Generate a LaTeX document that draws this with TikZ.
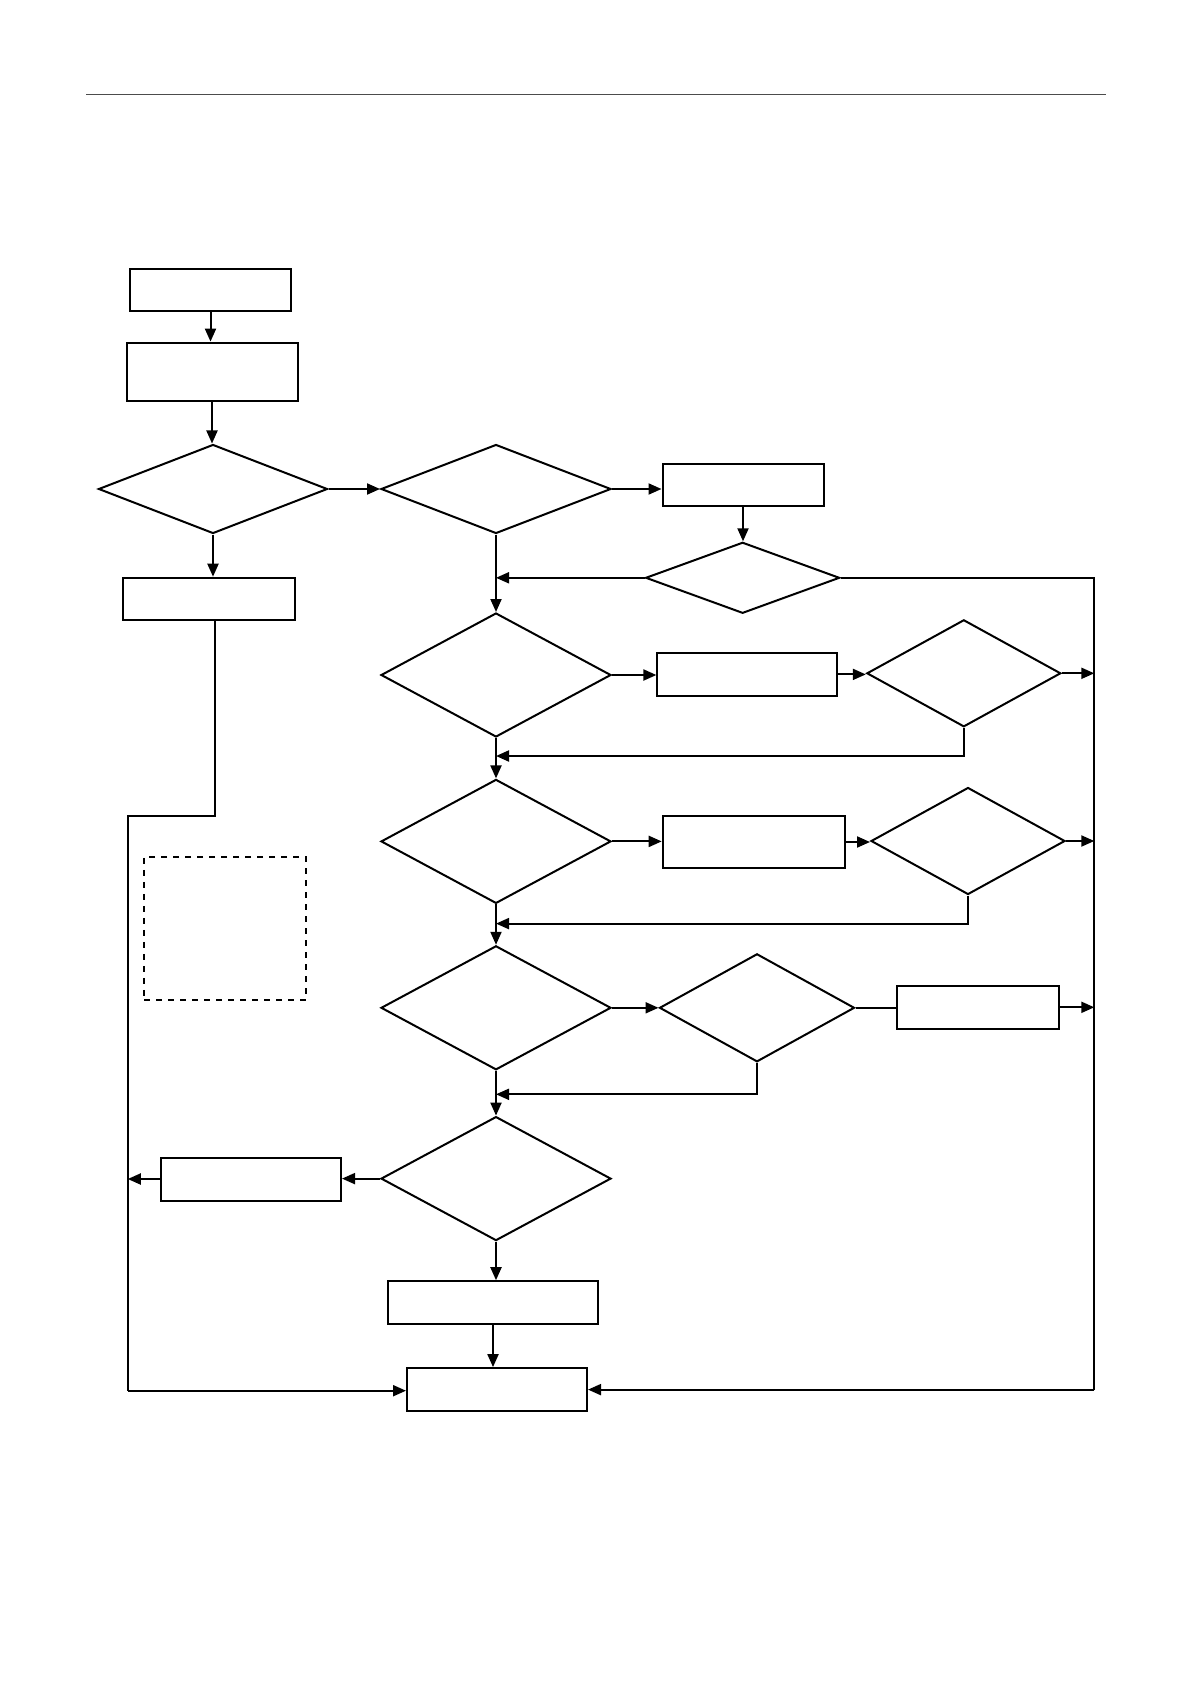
\documentclass[tikz,border=0pt]{standalone}
\usepackage{tikz}
\usetikzlibrary{arrows.meta,shapes.geometric}

\begin{document}
\begin{tikzpicture}[
    >={Triangle[length=6.5pt,width=5.5pt]},
    x=0.5pt, y=-0.5pt,
    box/.style={draw,line width=1pt,inner sep=0pt,minimum height=21.5pt},
    dec/.style={draw,diamond,line width=1pt,inner sep=0pt},
    bigdec/.style={dec,minimum width=115pt,minimum height=62pt},
    smalldec/.style={dec,minimum width=97pt,minimum height=53.5pt},
    note/.style={draw,dashed,line width=0.8pt,inner sep=0pt},
    flow/.style={->,line width=1pt},
    link/.style={line width=1pt},
  ]
  \useasboundingbox (0,0) rectangle (1191,1684);

  % page rule
  \coordinate (ruleL) at (86,94.5);
  \coordinate (ruleR) at (1106,94.5);
  \draw[line width=0.6pt,black!70] (ruleL) -- (ruleR);

  % --- left start column ---
  \node[box,minimum width=80.5pt,minimum height=21pt] (b1) at (210.5,290.5) {};
  \node[box,minimum width=85.5pt,minimum height=29pt] (b2) at (212,371.6) {};
  \node[dec,minimum width=114.5pt,minimum height=44.5pt] (d1) at (213,489) {};
  \node[box,minimum width=86pt,minimum height=21pt] (b3) at (209.4,598.7) {};

  % --- main column ---
  \node[dec,minimum width=115pt,minimum height=44.5pt] (d2) at (496,489) {};
  \node[bigdec] (d3)  at (496,675) {};
  \node[bigdec] (d6)  at (496,841.4) {};
  \node[bigdec] (d8)  at (496,1007.8) {};
  \node[bigdec] (d10) at (496,1178.6) {};
  \node[box,minimum width=105pt] (b9)  at (493,1302.7) {};
  \node[box,minimum width=90pt]  (b10) at (497,1389.6) {};

  % --- side branches ---
  \node[box,minimum width=80.5pt,minimum height=21pt] (b4) at (743,485) {};
  \node[dec,minimum width=97pt,minimum height=35.5pt] (d4) at (742.6,577.8) {};
  \node[box,minimum width=90pt] (b5) at (747.4,674.4) {};
  \node[smalldec] (d5) at (963.8,673.3) {};
  \node[box,minimum width=91.3pt,minimum height=25.75pt] (b6) at (754,842) {};
  \node[smalldec] (d7) at (968,841) {};
  \node[smalldec,minimum width=97.5pt,minimum height=54pt] (d9) at (757,1007.8) {};
  \node[box,minimum width=81pt] (b7) at (977.8,1007.3) {};
  \node[box,minimum width=90pt] (b8) at (251,1179) {};

  % dashed note frame
  \node[note,minimum width=81pt,minimum height=71.5pt] (memo) at (225,928.4) {};

  % --- rails and feedback points ---
  \coordinate (rtop) at (1094.3,577.8);
  \coordinate (rbot) at (1094.3,1389.6);
  \coordinate (lbend) at (214.8,816.2);
  \coordinate (ltop) at (127.8,816.2);
  \coordinate (lbot) at (127.8,1390.7);
  \coordinate (fb1) at (496,756);
  \coordinate (fb2) at (496,923.6);
  \coordinate (fb3) at (496,1094.3);

  % --- start sequence ---
  \draw[flow] (b1.south) -- (b1.south |- b2.north);
  \draw[flow] (b2.south) -- (b2.south |- d1.north);
  \draw[flow] (d1.south) -- (d1.south |- b3.north);
  \draw[flow] (d1.east) -- (d2.west);

  % --- top branch ---
  \draw[flow] (d2.east) -- (d2.east -| b4.west);
  \draw[flow] (b4.south) -- (b4.south |- d4.north);
  \draw[flow] (d4.west) -- (d4.west -| d2.south);
  \draw[link] (d4.east) -- (rtop) -- (rbot);
  \draw[flow] (rbot) -- (b10.east);

  % --- main spine ---
  \draw[flow] (d2.south) -- (d3.north);
  \draw[flow] (d3.south) -- (d6.north);
  \draw[flow] (d6.south) -- (d8.north);
  \draw[flow] (d8.south) -- (d10.north);
  \draw[flow] (d10.south) -- (d10.south |- b9.north);
  \draw[flow] (b9.south) -- (b9.south |- b10.north);

  % --- checks with retry loops ---
  \draw[flow] (d3.east) -- (d3.east -| b5.west);
  \draw[flow] (b5.east) -- (b5.east -| d5.west);
  \draw[flow] (d5.east) -- (d5.east -| rtop);
  \draw[flow] (d5.south) |- (fb1);

  \draw[flow] (d6.east) -- (d6.east -| b6.west);
  \draw[flow] (b6.east) -- (b6.east -| d7.west);
  \draw[flow] (d7.east) -- (d7.east -| rtop);
  \draw[flow] (d7.south) |- (fb2);

  \draw[flow] (d8.east) -- (d9.west);
  \draw[link] (d9.east) -- (d9.east -| b7.west);
  \draw[flow] (b7.east) -- (b7.east -| rtop);
  \draw[flow] (d9.south) |- (fb3);

  % --- failure path on the left ---
  \draw[flow] (d10.west) -- (d10.west -| b8.east);
  \draw[flow] (b8.west) -- (b8.west -| ltop);
  \draw[link] (b3.south -| lbend) -- (lbend) -- (ltop) -- (lbot);
  \draw[flow] (lbot) -- (lbot -| b10.west);

\end{tikzpicture}
\end{document}
